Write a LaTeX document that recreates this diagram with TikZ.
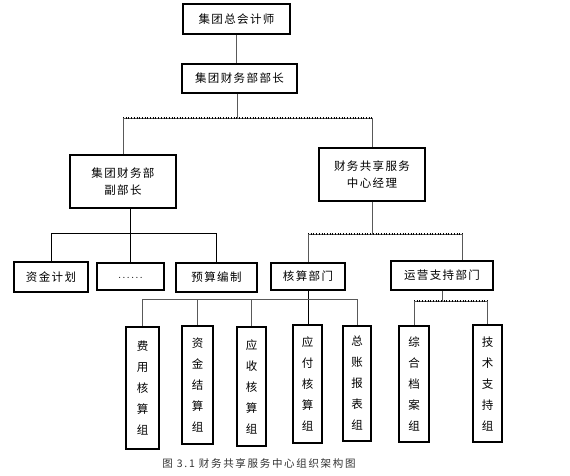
\documentclass[tikz,border=0pt]{standalone}
\usepackage{fontspec}
\newfontfamily\cjk{Noto Sans CJK SC}[LetterSpace=12]
\newfontfamily\cjkcap{Noto Sans CJK SC}[LetterSpace=16]
\newcommand{\mydots}{\raisebox{-3pt}{\normalfont\fontsize{12}{14}\selectfont\makebox[26pt]{\xleaders\hbox to 4.33pt{\hss.\hss}\hfill}}}
\begin{document}
\begin{tikzpicture}[x=1pt,y=-1pt,
  box/.style={draw=black,line width=1.3pt,fill=white,inner sep=0pt,align=center,font=\cjk\fontsize{11.5}{17}\selectfont},
  tall/.style={box,font=\cjk\fontsize{11.5}{21}\selectfont},
  conn/.style={draw=black!65,line width=0.9pt},
  dotbar/.style={draw=black!65,line width=0.9pt,postaction={draw=black,line width=1.4pt,dash pattern=on 0.5pt off 2.2pt}}]
\useasboundingbox[fill=white] (0,0) rectangle (570,476);
% level nodes
\node[box,minimum width=107pt,minimum height=30pt] (gca) at (236.5,19) {集团总会计师};
\node[box,minimum width=115pt,minimum height=29pt] (bz) at (239.5,78.5) {集团财务部部长};
\node[box,minimum width=106pt,minimum height=53pt] (fbz) at (123,181.5) {集团财务部\\副部长};
\node[box,minimum width=106pt,minimum height=53pt] (jl) at (372,174.5) {财务共享服务\\中心经理};
\node[box,minimum width=74pt,minimum height=30pt] (zj) at (51,277) {资金计划};
\node[box,minimum width=67pt,minimum height=27pt] (dots) at (130.5,276.5) {\mydots};
\node[box,minimum width=81pt,minimum height=29pt] (ys) at (216.5,277.5) {预算编制};
\node[box,minimum width=74pt,minimum height=27pt] (hs) at (308,276.5) {核算部门};
\node[box,minimum width=102pt,minimum height=29pt] (yy) at (442,275.5) {运营支持部门};
% tall group boxes
\node[tall,minimum width=33pt,minimum height=122pt] (g1) at (142.5,388) {费\\用\\核\\算\\组};
\node[tall,minimum width=31pt,minimum height=118pt] (g2) at (197.5,385) {资\\金\\结\\算\\组};
\node[tall,minimum width=29pt,minimum height=119pt] (g3) at (251.5,386.5) {应\\收\\核\\算\\组};
\node[tall,minimum width=29pt,minimum height=118pt] (g4) at (307.5,384) {应\\付\\核\\算\\组};
\node[tall,minimum width=28pt,minimum height=115pt] (g5) at (357,383.5) {总\\账\\报\\表\\组};
\node[tall,minimum width=30pt,minimum height=116pt] (g6) at (414,384) {综\\合\\档\\案\\组};
\node[tall,minimum width=29pt,minimum height=117pt] (g7) at (487.5,383.5) {技\\术\\支\\持\\组};
% junction coordinates
\coordinate (b1) at (237,118);
\coordinate (b2) at (130,233);
\coordinate (b3) at (372,234);
\coordinate (b3r) at (462,234);
\coordinate (b4) at (308,299);
\coordinate (b5) at (442,301);
% connectors
\draw[conn] (gca.south) -- (gca.south |- bz.north);
\draw[conn] (b1 |- bz.south) -- (b1);
\draw[dotbar] (fbz.north |- b1) -- (jl.north |- b1);
\draw[conn] (fbz.north |- b1) -- (fbz.north);
\draw[conn] (jl.north |- b1) -- (jl.north);
\draw[conn,draw=black] (dots.north |- fbz.south) -- (dots.north);
\draw[conn,draw=black] (zj.north |- b2) -- (ys.north |- b2);
\draw[conn,draw=black] (zj.north |- b2) -- (zj.north);
\draw[conn,draw=black] (ys.north |- b2) -- (ys.north);
\draw[conn] (jl.south) -- (b3);
\draw[dotbar] (hs.north |- b3) -- (b3r);
\draw[conn] (hs.north |- b3) -- (hs.north);
\draw[conn] (b3r) -- (b3r |- yy.north);
\draw[conn,draw=black] (hs.south) -- (hs.south |- g4.north);
\draw[conn] (g1.north |- b4) -- (g5.north |- b4);
\draw[conn] (g1.north |- b4) -- (g1.north);
\draw[conn] (g2.north |- b4) -- (g2.north);
\draw[conn] (g3.north |- b4) -- (g3.north);
\draw[conn] (g5.north |- b4) -- (g5.north);
\draw[conn] (yy.south) -- (b5);
\draw[dotbar] (g6.north |- b5) -- (g7.north |- b5);
\draw[conn] (g6.north |- b5) -- (g6.north);
\draw[conn] (g7.north |- b5) -- (g7.north);
% caption
\node[font=\cjkcap\fontsize{10.5}{12}\selectfont,text=black!80] (cap) at (259,463) {图 3.1\ 财务共享服务中心组织架构图};
\end{tikzpicture}
\end{document}
